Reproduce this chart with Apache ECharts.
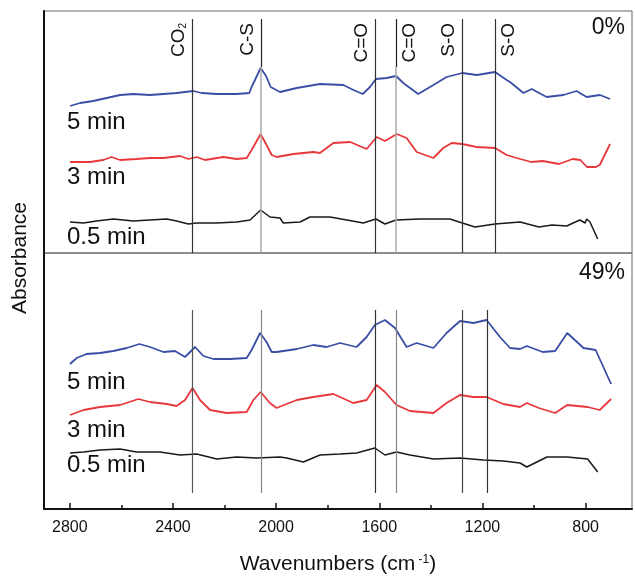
<!DOCTYPE html>
<html>
<head>
<meta charset="utf-8">
<script src="https://cdn.jsdelivr.net/npm/echarts@6/dist/echarts.min.js"></script>
<style>html,body{margin:0;padding:0;background:#fff}#c{width:635px;height:579px}</style>
</head>
<body>
<div id="c"></div>
<script>
// ---- data (x = wavenumber cm^-1, y = relative absorbance, arbitrary units) ----
const top5min = [[2799,147],[2760,150],[2709,152],[2657,155],[2605,158],[2554,159],[2489,158],[2437,159],[2386,160],[2321,162],[2289,160],[2230,159],[2153,159],[2104,160],[2095,166],[2082,173],[2060,185],[2039,177],[2021,166],[1985,161],[1920,165],[1830,169],[1739,168],[1700,163],[1664,159],[1636,166],[1613,174],[1571,175],[1535,177],[1507,170],[1449,159],[1390,168],[1339,176],[1278,180],[1222,178],[1151,181],[1106,173],[1093,171],[1041,160],[1009,164],[951,156],[886,158],[835,162],[796,156],[744,158],[705,154]];
const top3min = [[2799,91],[2722,91],[2670,93],[2638,96],[2605,93],[2541,94],[2489,95],[2437,95],[2373,97],[2340,94],[2308,96],[2276,93],[2205,96],[2153,94],[2114,95],[2095,103],[2060,119],[2037,108],[2017,98],[1998,96],[1933,99],[1856,101],[1830,100],[1778,110],[1713,111],[1649,104],[1610,116],[1578,112],[1532,119],[1494,115],[1455,101],[1390,95],[1352,105],[1319,110],[1278,109],[1222,106],[1151,105],[1106,98],[1054,94],[1010,91],[966,92],[903,89],[850,94],[820,93],[795,86],[760,86],[745,88],[705,109]];
const top05min = [[2799,31],[2747,30],[2696,32],[2631,34],[2554,32],[2489,33],[2424,34],[2386,32],[2340,29],[2308,30],[2230,30],[2153,31],[2101,33],[2060,43],[2024,36],[1985,35],[1972,30],[1907,31],[1869,36],[1791,36],[1726,33],[1662,30],[1613,34],[1578,29],[1535,33],[1442,34],[1326,34],[1278,30],[1229,26],[1151,29],[1054,31],[981,26],[930,28],[873,27],[848,30],[822,33],[802,30],[796,34],[783,31],[753,14]];
const bot5min = [[2799,145],[2773,151],[2735,155],[2683,156],[2631,158],[2579,161],[2530,165],[2489,162],[2437,157],[2392,158],[2353,152],[2314,162],[2282,153],[2243,150],[2179,150],[2114,151],[2095,159],[2062,176],[2037,167],[2017,157],[1998,157],[1920,160],[1856,164],[1804,162],[1752,166],[1688,162],[1649,172],[1617,184],[1578,189],[1539,181],[1494,162],[1455,166],[1390,161],[1339,176],[1287,188],[1235,186],[1184,189],[1132,172],[1093,161],[1054,160],[1028,163],[966,157],[918,158],[871,176],[808,161],[761,159],[701,125]];
const bot3min = [[2799,94],[2747,99],[2683,102],[2605,104],[2534,110],[2489,107],[2424,105],[2386,103],[2353,109],[2324,121],[2295,109],[2256,99],[2192,96],[2114,97],[2088,109],[2060,117],[2024,106],[1998,101],[1920,109],[1856,112],[1778,115],[1701,106],[1649,109],[1610,124],[1578,117],[1533,104],[1481,98],[1390,96],[1339,106],[1287,114],[1235,112],[1184,112],[1119,105],[1054,102],[1028,106],[981,101],[918,96],[871,104],[792,102],[745,99],[701,110]];
const bot05min = [[2799,56],[2747,57],[2683,59],[2605,60],[2541,57],[2450,57],[2373,54],[2308,55],[2230,50],[2153,52],[2075,51],[1985,52],[1959,51],[1894,47],[1830,54],[1752,55],[1688,56],[1617,61],[1578,54],[1533,57],[1481,54],[1390,50],[1287,51],[1196,49],[1119,48],[1054,46],[1028,42],[950,52],[871,52],[792,50],[753,37]];

const topBandPos = [2325, 2058, 1615, 1535, 1278, 1150];
const bandLabels = ['CO2', 'C-S', 'C=O', 'C=O', 'S-O', 'S-O'];
const bandLabelSide = ['left', 'left', 'left', 'right', 'left', 'right'];
const botBandPos = [2325, 2058, 1615, 1535, 1278, 1182];

const majorTicks = [2800, 2400, 2000, 1600, 1200, 800];
const minorTicks = [2600, 2200, 1800, 1400, 1000];
const panelLabels = ['0%', '49%'];
const timeLabels = ['5 min', '3 min', '0.5 min'];
const topLabelY = [131, 76, 16];
const botLabelY = [127, 79, 44];

// ---- chart ----
const FONT = 'Liberation Sans, Arial, sans-serif';
const XMIN = 620, XMAX = 2900;
const TOP_H = 242, BOT_H = 256;
const COL = ['#3b4ea6', '#e8383c', '#1a1a1a'];

function labelMark(text, x, y) {
  return {
    symbol: 'rect', symbolSize: 0, silent: true, animation: false,
    data: [{ coord: [x, y] }],
    label: { show: true, position: 'right', distance: 0, formatter: text, color: '#111', fontSize: 24, fontFamily: FONT }
  };
}

function bandLines(posArr, yLow, yHigh, withLabels, colors, splitAt) {
  const data = [];
  posArr.forEach((p, i) => {
    const lbl = withLabels ? {
      show: true, position: bandLabelSide[i] === 'left' ? 'insideEndTop' : 'insideEndBottom', distance: 4,
      color: '#111', fontSize: 19, fontFamily: FONT,
      formatter: bandLabels[i] === 'CO2' ? '{a|CO}{s|2}' : bandLabels[i],
      rich: { a: { fontSize: 19, fontFamily: FONT, color: '#111' }, s: { fontSize: 10, fontFamily: FONT, color: '#111', verticalAlign: 'bottom' } }
    } : { show: false };
    if (splitAt && splitAt[i] != null) {
      data.push([{ coord: [p, splitAt[i]], lineStyle: { color: '#222', width: 1.2, type: 'solid' }, label: lbl }, { coord: [p, yHigh] }]);
      data.push([{ coord: [p, yLow], lineStyle: { color: '#aaa', width: 1.5, type: 'solid' }, label: { show: false } }, { coord: [p, splitAt[i]] }]);
    } else {
      data.push([{ coord: [p, yLow], lineStyle: { color: colors[i], width: 1.2, type: 'solid' }, label: lbl }, { coord: [p, yHigh] }]);
    }
  });
  return { symbol: ['none', 'none'], silent: true, animation: false, data };
}

const chart = echarts.init(document.getElementById('c'), null, { renderer: 'canvas' });
chart.setOption({
  animation: false,
  backgroundColor: '#fff',
  textStyle: { fontFamily: FONT },
  title: [
    { text: panelLabels[0], right: 5, top: 11, textStyle: { fontSize: 23, fontWeight: 'normal', color: '#111', fontFamily: FONT } },
    { text: panelLabels[1], right: 5, top: 256, textStyle: { fontSize: 23, fontWeight: 'normal', color: '#111', fontFamily: FONT } }
  ],
  graphic: [{
    type: 'text', x: 20, y: 258, rotation: Math.PI / 2,
    style: { text: 'Absorbance', fontSize: 21, fontFamily: FONT, fill: '#111', align: 'center', verticalAlign: 'middle' }
  }],
  grid: [
    { left: 44, right: 3, top: 11, height: TOP_H, show: true, borderColor: '#666', borderWidth: 1 },
    { left: 44, right: 3, top: 11 + TOP_H, height: BOT_H, show: true, borderColor: '#666', borderWidth: 1 }
  ],
  xAxis: [
    { gridIndex: 0, type: 'value', min: XMIN, max: XMAX, inverse: true, axisLine: { show: false }, axisTick: { show: false }, axisLabel: { show: false }, splitLine: { show: false } },
    {
      gridIndex: 1, type: 'value', min: XMIN, max: XMAX, inverse: true, position: 'bottom',
      axisLine: { show: true, onZero: false, lineStyle: { color: '#111', width: 2 } },
      axisTick: { show: true, inside: true, length: 6, customValues: majorTicks, lineStyle: { color: '#111', width: 1.5 } },
      axisLabel: { show: true, customValues: majorTicks, fontSize: 16, color: '#111', margin: 11, fontFamily: FONT, formatter: v => String(v) },
      splitLine: { show: false },
      name: '{a|Wavenumbers (cm}{s| -1}{a|)}', nameLocation: 'middle', nameGap: 45,
      nameTextStyle: { rich: { a: { fontSize: 21, fontFamily: FONT, color: '#111' }, s: { fontSize: 12, fontFamily: FONT, color: '#111', verticalAlign: 'top' } } }
    },
    {
      gridIndex: 1, type: 'value', min: XMIN, max: XMAX, inverse: true, position: 'bottom',
      axisLine: { show: false, onZero: false },
      axisTick: { show: true, inside: true, length: 4, customValues: minorTicks, lineStyle: { color: '#111', width: 1.5 } },
      axisLabel: { show: false }, splitLine: { show: false }
    }
  ],
  yAxis: [
    { gridIndex: 0, type: 'value', min: 0, max: TOP_H, axisLine: { show: true, lineStyle: { color: '#111', width: 2 } }, axisTick: { show: false }, axisLabel: { show: false }, splitLine: { show: false } },
    { gridIndex: 1, type: 'value', min: 0, max: BOT_H, axisLine: { show: true, lineStyle: { color: '#111', width: 2 } }, axisTick: { show: false }, axisLabel: { show: false }, splitLine: { show: false } }
  ],
  series: [
    { type: 'line', xAxisIndex: 0, yAxisIndex: 0, data: [], markLine: bandLines(topBandPos, 0, 234, true, ['#333', '#333', '#333', '#333', '#333', '#333'], [null, 186, null, 186, null, null]) },
    { type: 'line', xAxisIndex: 1, yAxisIndex: 1, data: [], markLine: bandLines(botBandPos, 16, 199, false, ['#555', '#888', '#333', '#888', '#444', '#333'], null) },
    { name: '5 min', type: 'line', xAxisIndex: 0, yAxisIndex: 0, data: top5min, showSymbol: false, lineStyle: { color: COL[0], width: 1.8 }, markPoint: labelMark(timeLabels[0], 2811, topLabelY[0]) },
    { name: '3 min', type: 'line', xAxisIndex: 0, yAxisIndex: 0, data: top3min, showSymbol: false, lineStyle: { color: COL[1], width: 1.8 }, markPoint: labelMark(timeLabels[1], 2811, topLabelY[1]) },
    { name: '0.5 min', type: 'line', xAxisIndex: 0, yAxisIndex: 0, data: top05min, showSymbol: false, lineStyle: { color: COL[2], width: 1.5 }, markPoint: labelMark(timeLabels[2], 2811, topLabelY[2]) },
    { name: '5 min b', type: 'line', xAxisIndex: 1, yAxisIndex: 1, data: bot5min, showSymbol: false, lineStyle: { color: COL[0], width: 1.8 }, markPoint: labelMark(timeLabels[0], 2811, botLabelY[0]) },
    { name: '3 min b', type: 'line', xAxisIndex: 1, yAxisIndex: 1, data: bot3min, showSymbol: false, lineStyle: { color: COL[1], width: 1.8 }, markPoint: labelMark(timeLabels[1], 2811, botLabelY[1]) },
    { name: '0.5 min b', type: 'line', xAxisIndex: 1, yAxisIndex: 1, data: bot05min, showSymbol: false, lineStyle: { color: COL[2], width: 1.5 }, markPoint: labelMark(timeLabels[2], 2811, botLabelY[2]) }
  ]
});
</script>
</body>
</html>
